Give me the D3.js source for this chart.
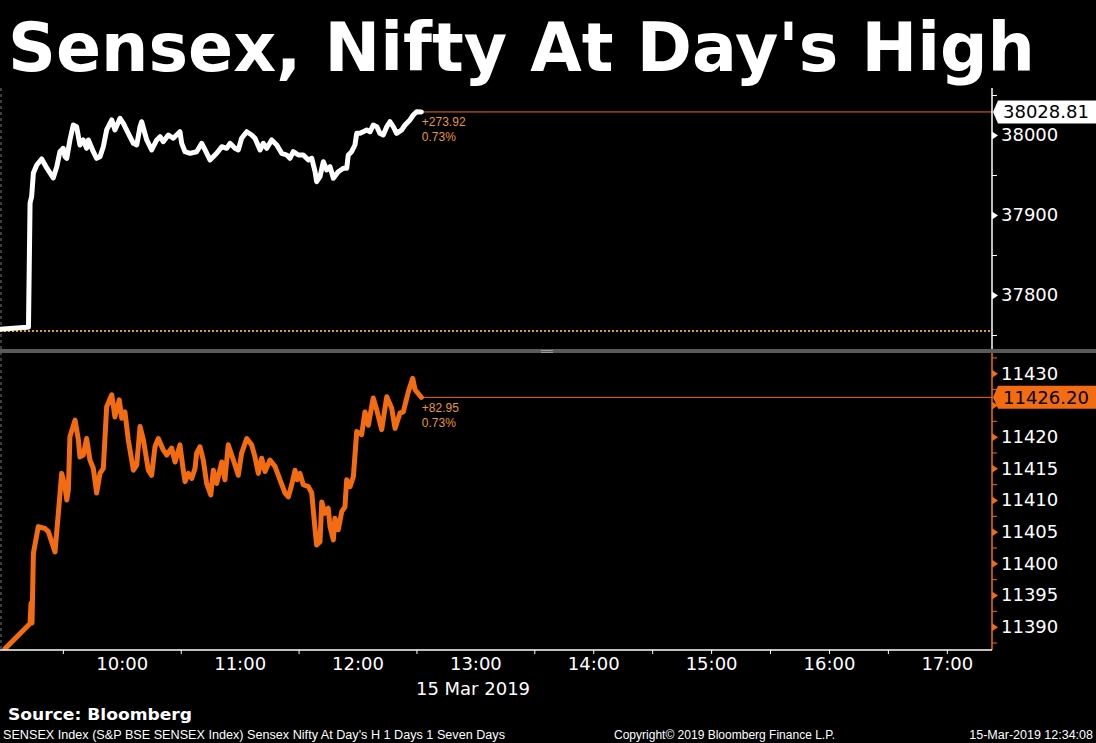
<!DOCTYPE html>
<html><head><meta charset="utf-8">
<script src="https://cdn.jsdelivr.net/npm/d3@7"></script>
<style>body{margin:0;background:#000;overflow:hidden}svg{display:block}</style>
</head><body>
<svg id="c" width="1096" height="743"></svg>
<script>
// ---- data (time = minutes since midnight, IST) ----
const sensexTime = [538,551.6,552.5,553.3,554.1,555,556.7,559.2,561.8,565.1,
566.9,568.5,570.2,571.1,572,573.6,575.3,577,578.7,580.4,
582.1,583,585.5,587.2,588.9,590.6,592.3,594.9,596.5,599.1,
600.8,603.3,605.9,607.6,609.3,610.1,612.7,615.2,617.8,619.5,
621.1,623.7,626.2,629.6,630.5,632.2,634.7,638.1,640.7,642.4,
644.9,648.3,650.9,653.4,655.1,657.6,659.3,661,663.6,666.1,
667.8,670.4,672,673.8,676.3,678.9,681.4,684,685.6,687.3,
689.9,692.4,695,696.7,698.4,699.2,700.9,702.6,704.3,706,
707.7,710.2,712.8,714.5,715.3,717,718.7,719.6,721.3,722.9,
724.7,726.4,728,729.8,731.4,733.1,734.9,736.5,738.2,739.9,
742.5,744.2,746.7,748.4,750.1,752.5];
const sensexValue = [37757.1,37759.6,37760,37915,37922.9,37952.5,37962.5,37970,37958.8,37946.3,
37960.4,37979.1,37983.4,37972.9,37970.9,37993.8,38012.5,38010.4,37987.5,37993.8,
37983.4,37993.8,37979.1,37970.9,37972.9,37985.4,38006.3,38018.8,38006.3,38020.9,
38014.6,38002.1,37989.6,37987.5,38010.4,38016.6,37993.8,37981.3,37993.8,37997.9,
37991.6,38000,37995.9,38004.1,37989.6,37979.1,37977.1,37979.1,37989.6,37981.3,
37968.8,37977.1,37985.4,37983.4,37989.6,37983.4,37981.3,37995.9,38004.1,38000,
37995.9,37981.3,37989.6,37983.4,37993.8,37987.5,37977.1,37975,37970.9,37979.1,
37975,37975,37968.8,37970.9,37954.1,37941.6,37947.9,37966.6,37956.3,37960.4,
37945.9,37954.1,37958.4,37958.4,37975,37979.1,37987.5,38002.1,38002.1,38004.1,
38006.3,38004.1,38012.5,38010.4,38002.1,38000,38010.4,38016.6,38010.4,38002.1,
38006.3,38012.5,38018.8,38025,38029.1,38028.81];

const niftyTime = [540.5,553.3,553.8,554.3,555,557.5,560.9,562.6,564.3,566,
567.7,569.4,571.1,572,572.8,573.6,576.2,577.9,578.7,580.4,
582.1,583.8,585.5,587.2,588.9,590.6,592.3,594.9,596.5,598.7,
600,601.6,603.3,605.9,607.6,609.3,611,613.5,615.2,616.9,
618.6,621.1,622.9,625.4,627.1,629.6,631.3,632.2,633.9,635.6,
637.3,638.1,639.8,641.5,643.2,645.3,646.6,648.3,650.9,652.5,
654.2,656.8,659.3,661,663.6,666.1,667.8,669.5,671.2,672.9,
675.4,678,680.5,683.1,684.8,686.5,688.2,689.3,690.7,692.4,
695,696.7,698.4,699.2,700.9,701.8,703.4,705.1,706,707.7,
708.5,710.2,712,713.6,714.5,716.2,717.9,719.6,722.1,723.8,
725.5,728,729.8,732.3,734.9,737.4,739.1,741.6,743.3,745.9,
748.1,749.3,752.5];
const niftyValue = [11386.5,11390.5,11393.7,11390.6,11401.6,11405.8,11405.5,11405.0,11403.4,11401.8,
11407.9,11414.2,11412.1,11410.0,11411.6,11420.0,11422.6,11419.5,11416.8,11417.1,
11419.7,11416.3,11415.0,11411.1,11414.2,11415.0,11424.7,11426.6,11423.1,11425.8,
11422.9,11423.9,11419.5,11414.7,11415.5,11421.6,11419.5,11414.7,11413.9,11418.4,
11419.7,11417.9,11417.1,11418.2,11416.0,11418.7,11414.7,11412.9,11414.2,11413.4,
11415.0,11417.4,11418.4,11416.3,11412.6,11410.8,11414.7,11412.6,11416.0,11413.2,
11418.7,11416.3,11413.9,11417.4,11419.7,11418.7,11416.8,11414.2,11416.6,11414.5,
11416.3,11415.3,11413.2,11411.1,11410.5,11412.4,11414.7,11413.2,11414.2,11412.4,
11412.1,11411.1,11405.3,11402.9,11403.4,11409.7,11407.9,11408.7,11405.8,11403.7,
11407.1,11405.3,11408.2,11408.9,11413.2,11412.1,11413.7,11420.8,11420.3,11423.9,
11421.8,11426.1,11424.2,11421.1,11426.3,11424.5,11421.3,11423.7,11423.9,11427.1,
11429.2,11427.4,11426.2];

const sensexTicks = [37800, 37900, 38000];
const sensexMinorTicks = [37750, 37850, 37950, 38050];
const niftyTicks = [11390, 11395, 11400, 11405, 11410, 11415, 11420, 11425, 11430];
const niftyMinorTicks = [11387.5, 11392.5, 11397.5, 11402.5, 11407.5, 11412.5, 11417.5, 11422.5, 11427.5, 11432.5];
const hourLabels = ["10:00","11:00","12:00","13:00","14:00","15:00","16:00","17:00"];
const halfHourTicks = ["9:30","10:30","11:30","12:30","13:30","14:00","14:30","15:00","15:30","16:00","16:30","17:00"];
const sensexLast = 38028.81, sensexChange = "+273.92", sensexPct = "0.73%", sensexPrevClose = 37754.89;
const niftyLast = 11426.20, niftyChange = "+82.95", niftyPct = "0.73%";

const titleText = "Sensex, Nifty At Day's High";
const dateLabel = "15 Mar 2019";
const sourceText = "Source: Bloomberg";
const footerLeft = "SENSEX Index (S&P BSE SENSEX Index) Sensex Nifty At Day's H 1 Days 1 Seven Days";
const footerMid = "Copyright\u00A9 2019 Bloomberg Finance L.P.";
const footerRight = "15-Mar-2019 12:34:08";

// ---- layout ----
const ORANGE = "#f36c12", LBL = "#e8962f";
const toMin = s => { const [h, m] = s.split(":").map(Number); return h * 60 + m; };
const svg = d3.select("#c");
const PR = 992, T0 = 88, T1 = 349, B0 = 353, B1 = 650;
const x = d3.scaleLinear().domain([538, 1043]).range([0, PR]);
const yS = d3.scaleLinear().domain([37732.5, 38058.75]).range([T1, T0]);
const yN = d3.scaleLinear().domain([11386.32, 11433.2]).range([B1, B0]);

svg.append("rect").attr("width", 1096).attr("height", 743).attr("fill", "#000");

const defs = svg.append("defs");
defs.append("clipPath").attr("id", "clipT").append("rect").attr("x", 0).attr("y", T0).attr("width", PR).attr("height", T1 - T0);
defs.append("clipPath").attr("id", "clipB").append("rect").attr("x", 0).attr("y", B0).attr("width", PR).attr("height", B1 - B0);

// title
svg.append("text").attr("x", 8).attr("y", 71).attr("fill", "#fff")
  .attr("font-family", "DejaVu Sans").attr("font-weight", "bold").attr("font-size", 67)
  .attr("textLength", 1027).attr("lengthAdjust", "spacingAndGlyphs").text(titleText);

// left dashed border
svg.append("line").attr("x1", 1).attr("x2", 1).attr("y1", T0).attr("y2", B1)
  .attr("stroke", "#7a7a7a").attr("stroke-dasharray", "3,3");

// separator
svg.append("rect").attr("x", 0).attr("y", T1).attr("width", 1096).attr("height", 4).attr("fill", "#5a5a5a");
svg.append("line").attr("x1", 541).attr("x2", 553).attr("y1", 350.5).attr("y2", 350.5).attr("stroke", "#9a9a9a");
svg.append("line").attr("x1", 541).attr("x2", 553).attr("y1", 352.5).attr("y2", 352.5).attr("stroke", "#9a9a9a");

// prev close dotted
svg.append("line").attr("x1", 0).attr("x2", PR).attr("y1", yS(sensexPrevClose)).attr("y2", yS(sensexPrevClose))
  .attr("stroke", "#f7961e").attr("stroke-width", 2).attr("stroke-dasharray", "2,2");

const lastX = x(sensexTime[sensexTime.length - 1]);
// last value lines
svg.append("line").attr("x1", lastX).attr("x2", PR).attr("y1", yS(sensexLast)).attr("y2", yS(sensexLast))
  .attr("stroke", ORANGE).attr("stroke-width", 1);
svg.append("line").attr("x1", x(niftyTime[niftyTime.length - 1])).attr("x2", PR).attr("y1", yN(niftyLast)).attr("y2", yN(niftyLast))
  .attr("stroke", ORANGE).attr("stroke-width", 1);

// lines
const sData = d3.zip(sensexTime, sensexValue);
const nData = d3.zip(niftyTime, niftyValue);
svg.append("path").datum(sData).attr("clip-path", "url(#clipT)")
  .attr("d", d3.line().x(d => x(d[0])).y(d => yS(d[1])))
  .attr("fill", "none").attr("stroke", "#fff").attr("stroke-width", 5)
  .attr("stroke-linejoin", "round").attr("stroke-linecap", "round");
svg.append("path").datum(nData).attr("clip-path", "url(#clipB)")
  .attr("d", d3.line().x(d => x(d[0])).y(d => yN(d[1])))
  .attr("fill", "none").attr("stroke", ORANGE).attr("stroke-width", 5)
  .attr("stroke-linejoin", "round").attr("stroke-linecap", "round");

// change labels
const lblFont = "Liberation Sans";
function chgLabel(xx, y1, t1, y2, t2) {
  svg.append("text").attr("x", xx).attr("y", y1).attr("fill", LBL).attr("font-family", lblFont).attr("font-size", 12).text(t1);
  svg.append("text").attr("x", xx).attr("y", y2).attr("fill", LBL).attr("font-family", lblFont).attr("font-size", 12).text(t2);
}
chgLabel(lastX + 0.5, yS(sensexLast) + 14, sensexChange, yS(sensexLast) + 29.5, sensexPct);
chgLabel(lastX + 0.5, yN(niftyLast) + 15, niftyChange, yN(niftyLast) + 30, niftyPct);

// right axes
function rightAxis(scale, majors, minors, color, y0, y1, hiddenLabel) {
  const g = svg.append("g").attr("transform", `translate(${PR},0)`);
  g.append("line").attr("x1", 0).attr("x2", 0).attr("y1", y0).attr("y2", y1).attr("stroke", color).attr("stroke-width", 1.5);
  const gm = g.append("g").call(d3.axisRight(scale).tickValues(minors).tickSize(5).tickSizeOuter(0).tickFormat(""));
  gm.select(".domain").remove();
  gm.selectAll(".tick line").attr("stroke", color);
  const gM = g.append("g").call(d3.axisRight(scale).tickValues(majors).tickSize(0).tickSizeOuter(0).tickPadding(9).tickFormat(d3.format("d")));
  gM.select(".domain").remove();
  gM.selectAll(".tick text").attr("fill", "#fff").attr("font-family", "DejaVu Sans").attr("font-size", 18)
    .filter(d => d === hiddenLabel).remove(); // covered by the last-value box
  gM.selectAll(".tick").append("path").attr("d", "M0,-4L6,0L0,4Z").attr("fill", color);
}
rightAxis(yS, sensexTicks, sensexMinorTicks, "#fff", T0, T1, null);
rightAxis(yN, niftyTicks, niftyMinorTicks, ORANGE, B0, B1, 11425);

// last value boxes
function valueBox(yy, fill, txt) {
  svg.append("path").attr("d", `M${PR + 1},${yy} L${PR + 6},${yy - 11.5} L1096,${yy - 11.5} L1096,${yy + 11.5} L${PR + 6},${yy + 11.5} Z`).attr("fill", fill);
  svg.append("text").attr("x", 1003).attr("y", yy + 6.5).attr("fill", "#000")
    .attr("font-family", "DejaVu Sans").attr("font-size", 18).text(txt);
}
valueBox(yS(sensexLast), "#fff", sensexLast.toFixed(2));
valueBox(yN(niftyLast), ORANGE, niftyLast.toFixed(2));

// bottom axis
const gx = svg.append("g").attr("transform", `translate(0,${B1})`);
gx.append("line").attr("x1", 0).attr("x2", PR).attr("y1", 0).attr("y2", 0).attr("stroke", "#fff").attr("stroke-width", 1.5);
const gt = gx.append("g").call(d3.axisBottom(x).tickValues(halfHourTicks.map(toMin)).tickSize(4).tickSizeOuter(0).tickFormat(""));
gt.select(".domain").remove();
gt.selectAll(".tick line").attr("stroke", "#fff");
const gl = gx.append("g").call(d3.axisBottom(x).tickValues(hourLabels.map(toMin)).tickSize(0).tickSizeOuter(0).tickPadding(7)
  .tickFormat(d => hourLabels[hourLabels.map(toMin).indexOf(d)]));
gl.select(".domain").remove();
gl.selectAll(".tick text").attr("fill", "#fff").attr("font-family", "DejaVu Sans").attr("font-size", 18);
svg.append("text").attr("x", 473).attr("y", 695).attr("text-anchor", "middle").attr("fill", "#fff")
  .attr("font-family", "DejaVu Sans").attr("font-size", 18).text(dateLabel);

// source + footer
svg.append("text").attr("x", 8).attr("y", 720).attr("fill", "#fff").attr("font-family", "DejaVu Sans")
  .attr("font-weight", "bold").attr("font-size", 16).attr("textLength", 184).attr("lengthAdjust", "spacingAndGlyphs").text(sourceText);
svg.append("text").attr("x", 3).attr("y", 739).attr("fill", "#fff").attr("font-family", "Liberation Sans")
  .attr("font-size", 12.5).attr("textLength", 502).attr("lengthAdjust", "spacingAndGlyphs").text(footerLeft);
svg.append("text").attr("x", 614).attr("y", 739).attr("fill", "#fff").attr("font-family", "Liberation Sans")
  .attr("font-size", 12.5).attr("textLength", 221).attr("lengthAdjust", "spacingAndGlyphs").text(footerMid);
svg.append("text").attr("x", 1093).attr("y", 739).attr("text-anchor", "end").attr("fill", "#fff").attr("font-family", "Liberation Sans")
  .attr("font-size", 12.5).text(footerRight);
</script>
</body></html>
